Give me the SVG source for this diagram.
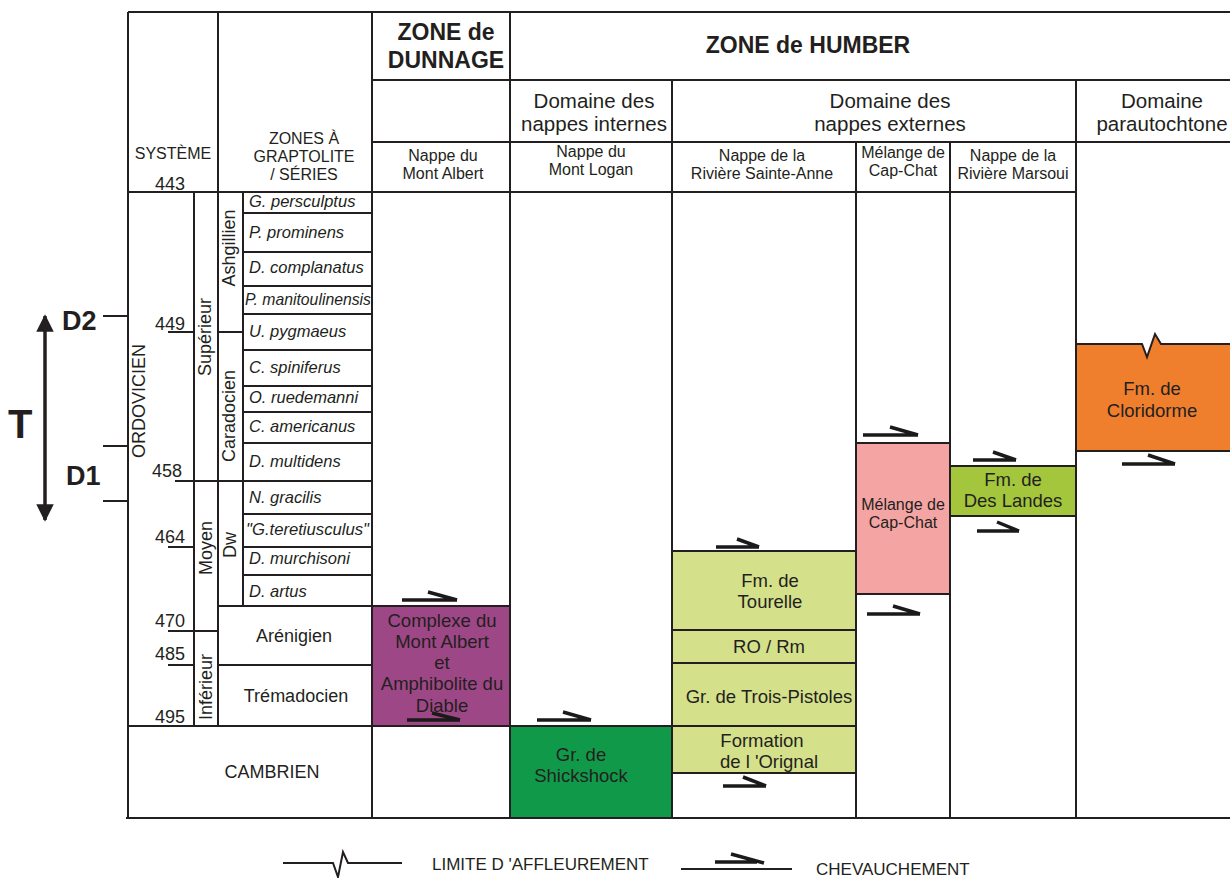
<svg xmlns="http://www.w3.org/2000/svg" width="1230" height="878" viewBox="0 0 1230 878">
<style>
text{font-family:"Liberation Sans",Arial,Helvetica,sans-serif;fill:#231f20}
.m{text-anchor:middle}
.b{font-weight:bold}
.h1{font-size:23px;font-weight:bold}
.h2{font-size:20.5px}
.h3{font-size:16px}
.n{font-size:18px}
.z{font-size:16.5px;font-style:italic}
.bx{font-size:18.5px}
.ln{stroke:#231f20;stroke-width:2;fill:none}
.cell{stroke:#231f20;stroke-width:2}
.th{stroke:#1a1a1a;stroke-width:3.5;fill:none;stroke-linecap:butt}
</style>
<defs>
<marker id="ah" viewBox="0 0 10 10" refX="9" refY="5" markerWidth="5" markerHeight="5" orient="auto-start-reverse"><path d="M0,0 L10,5 L0,10 z" fill="#231f20"/></marker>
</defs>
<rect width="1230" height="878" fill="#fff"/>

<!-- coloured units -->
<g id="complexe-mont-albert">
<rect class="cell" x="372" y="606" width="138" height="120" fill="#9e4786"/>
<text class="bx m" x="442" y="627">Complexe du</text>
<text class="bx m" x="442" y="648">Mont Albert</text>
<text class="bx m" x="442" y="669">et</text>
<text class="bx m" x="442" y="690">Amphibolite du</text>
<text class="bx m" x="442" y="712">Diable</text>
</g>
<g id="shickshock">
<rect class="cell" x="510" y="726" width="162" height="92" fill="#11994a"/>
<text class="bx m" x="581" y="761">Gr. de</text>
<text class="bx m" x="581" y="782">Shickshock</text>
</g>
<g id="tourelle">
<rect class="cell" x="672" y="551" width="184" height="79" fill="#d4e08a"/>
<text class="bx m" x="770" y="587">Fm. de</text>
<text class="bx m" x="770" y="608">Tourelle</text>
</g>
<g id="ro-rm">
<rect class="cell" x="672" y="630" width="184" height="33" fill="#d4e08a"/>
<text class="bx m" x="769" y="653">RO / Rm</text>
</g>
<g id="trois-pistoles">
<rect class="cell" x="672" y="663" width="184" height="63" fill="#d4e08a"/>
<text class="bx m" x="769" y="703">Gr. de Trois-Pistoles</text>
</g>
<g id="orignal">
<rect class="cell" x="672" y="726" width="184" height="47" fill="#d4e08a"/>
<text class="bx m" x="762" y="747">Formation</text>
<text class="bx m" x="769" y="768">de l 'Orignal</text>
</g>
<g id="melange-cap-chat">
<rect class="cell" x="856" y="443" width="94" height="151" fill="#f5a4a4"/>
<text class="h3 m" x="903" y="510">Mélange de</text>
<text class="h3 m" x="903" y="528">Cap-Chat</text>
</g>
<g id="des-landes">
<rect class="cell" x="950" y="466" width="126" height="50" fill="#a3c63c"/>
<text class="bx m" x="1013" y="486">Fm. de</text>
<text class="bx m" x="1013" y="507">Des Landes</text>
</g>
<g id="cloridorme">
<path class="cell" d="M1076,344 H1142 L1147,357 L1155,334 L1161,344 H1232 V451 H1076 Z" fill="#ef7e2d"/>
<text class="bx m" x="1152" y="395">Fm. de</text>
<text class="bx m" x="1152" y="417">Cloridorme</text>
</g>

<!-- table grid -->
<g id="grid" class="ln">
<path d="M128,12 H1232 M372,80 H1232 M372,142 H1232 M128,192 H1076"/>
<path d="M128,12 V818 M218,12 V726 M372,12 V818 M510,12 V818 M672,80 V818 M856,142 V818 M950,142 V818 M1076,80 V818"/>
<path d="M194,192 V726 M243,192 V606"/>
<path d="M243,213 H372 M243,252 H372 M243,286 H372 M243,314 H372 M243,350 H372 M243,386 H372 M243,412 H372 M243,443 H372 M243,514 H372 M243,547 H372 M243,575 H372"/>
<path d="M175,481 H372 M218,606 H372 M168,332 H194 M218,332 H243 M168,547 H194 M168,631 H218 M168,665 H194 M218,665 H372 M128,726 H856"/>
<path d="M126,818 H1232"/>
<path d="M103,316 H128 M103,446 H128 M103,501 H128"/>
</g>

<!-- header -->
<g id="header-systeme">
<text class="h3 m" x="173" y="159">SYSTÈME</text>
<text class="n m" x="170" y="190">443</text>
</g>
<g id="header-zones">
<text class="h3 m" x="304" y="144">ZONES À</text>
<text class="h3 m" x="304" y="162">GRAPTOLITE</text>
<text class="h3 m" x="304" y="180">/ SÉRIES</text>
</g>
<g id="header-dunnage">
<text class="h1 m" x="446" y="40">ZONE de</text>
<text class="h1 m" x="446" y="68">DUNNAGE</text>
</g>
<g id="header-humber">
<text class="h1 m" x="808" y="53">ZONE de HUMBER</text>
</g>
<g id="dom-internes">
<text class="h2 m" x="594" y="108">Domaine des</text>
<text class="h2 m" x="594" y="131">nappes internes</text>
</g>
<g id="dom-externes">
<text class="h2 m" x="890" y="108">Domaine des</text>
<text class="h2 m" x="890" y="131">nappes externes</text>
</g>
<g id="dom-parautochtone">
<text class="h2 m" x="1162" y="108">Domaine</text>
<text class="h2 m" x="1162" y="131">parautochtone</text>
</g>
<g id="nappe-mont-albert">
<text class="h3 m" x="443" y="161">Nappe du</text>
<text class="h3 m" x="443" y="179">Mont Albert</text>
</g>
<g id="nappe-mont-logan">
<text class="h3 m" x="591" y="157">Nappe du</text>
<text class="h3 m" x="591" y="175">Mont Logan</text>
</g>
<g id="nappe-sainte-anne">
<text class="h3 m" x="762" y="161">Nappe de la</text>
<text class="h3 m" x="762" y="179">Rivière Sainte-Anne</text>
</g>
<g id="nappe-cap-chat">
<text class="h3 m" x="903" y="158">Mélange de</text>
<text class="h3 m" x="903" y="176">Cap-Chat</text>
</g>
<g id="nappe-marsoui">
<text class="h3 m" x="1013" y="161">Nappe de la</text>
<text class="h3 m" x="1013" y="179">Rivière Marsoui</text>
</g>

<!-- stratigraphic column -->
<g id="ages">
<text class="n m" x="170" y="330">449</text>
<text class="n m" x="167" y="477">458</text>
<text class="n m" x="170" y="543">464</text>
<text class="n m" x="170" y="627">470</text>
<text class="n m" x="170" y="660">485</text>
<text class="n m" x="170" y="723">495</text>
</g>
<g id="series">
<text class="n m" transform="translate(144.5,401) rotate(-90)">ORDOVICIEN</text>
<text class="n m" transform="translate(211,337) rotate(-90)">Supérieur</text>
<text class="n m" transform="translate(212,548) rotate(-90)">Moyen</text>
<text class="n m" transform="translate(212,687) rotate(-90)">Inférieur</text>
<text class="n m" transform="translate(235,248) rotate(-90)">Ashgillien</text>
<text class="n m" transform="translate(235,416) rotate(-90)">Caradocien</text>
<text class="n m" transform="translate(236,545) rotate(-90)">Dw</text>
</g>
<g id="graptolite-zones">
<text class="z" x="249" y="207">G. persculptus</text>
<text class="z" x="249" y="238">P. prominens</text>
<text class="z" x="249" y="273">D. complanatus</text>
<text class="z" x="245" y="305" textLength="126" lengthAdjust="spacingAndGlyphs">P. manitoulinensis</text>
<text class="z" x="249" y="337">U. pygmaeus</text>
<text class="z" x="249" y="373">C. spiniferus</text>
<text class="z" x="249" y="403">O. ruedemanni</text>
<text class="z" x="249" y="432">C. americanus</text>
<text class="z" x="249" y="467">D. multidens</text>
<text class="z" x="249" y="503">N. gracilis</text>
<text class="z" x="246" y="535" textLength="123" lengthAdjust="spacingAndGlyphs">"G.teretiusculus"</text>
<text class="z" x="249" y="564">D. murchisoni</text>
<text class="z" x="249" y="597">D. artus</text>
</g>
<g id="stages">
<text class="n m" x="294" y="642">Arénigien</text>
<text class="n m" x="296" y="702">Trémadocien</text>
<text class="n m" x="272" y="778">CAMBRIEN</text>
</g>

<!-- deformation markers -->
<g id="deformation">
<line x1="45" y1="316" x2="45" y2="520" stroke="#231f20" stroke-width="3.5" marker-start="url(#ah)" marker-end="url(#ah)"/>
<text class="b" x="8" y="438" style="font-size:40px">T</text>
<text class="b" x="62" y="330" style="font-size:27px">D2</text>
<text class="b" x="66" y="485" style="font-size:27px">D1</text>
</g>

<!-- thrusts -->
<g id="connectors" class="th">
<path d="M402,600 H457 M428,592 L457,600"/>
<path d="M407,720 H460 M432,713 L460,720"/>
<path d="M537,720 H591 M563,712 L591,720"/>
<path d="M716,547 H759 M737,539 L759,547"/>
<path d="M723,786 H766 M743,777 L766,786"/>
<path d="M863,435 H918 M890,427 L918,435"/>
<path d="M867,614 H920 M893,606 L920,614"/>
<path d="M973,460 H1016 M993,452 L1016,460"/>
<path d="M977,531 H1019 M997,522 L1019,531"/>
<path d="M1122,464 H1175 M1148,455 L1175,464"/>
</g>

<!-- legend -->
<g id="legend-limite">
<path d="M283,863 H333 L338,877 L343,852 L348,863 H402" stroke="#231f20" stroke-width="2" fill="none"/>
<text style="font-size:17px" x="432" y="870">LIMITE D 'AFFLEUREMENT</text>
</g>
<g id="legend-chevauchement">
<path d="M681,869 H792" stroke="#231f20" stroke-width="2" fill="none"/>
<path class="th" d="M715,862 H757 M731,854 L764,863" stroke="#1a1a1a" stroke-width="3.5" fill="none"/>
<text style="font-size:17px" x="816" y="875">CHEVAUCHEMENT</text>
</g>
</svg>
